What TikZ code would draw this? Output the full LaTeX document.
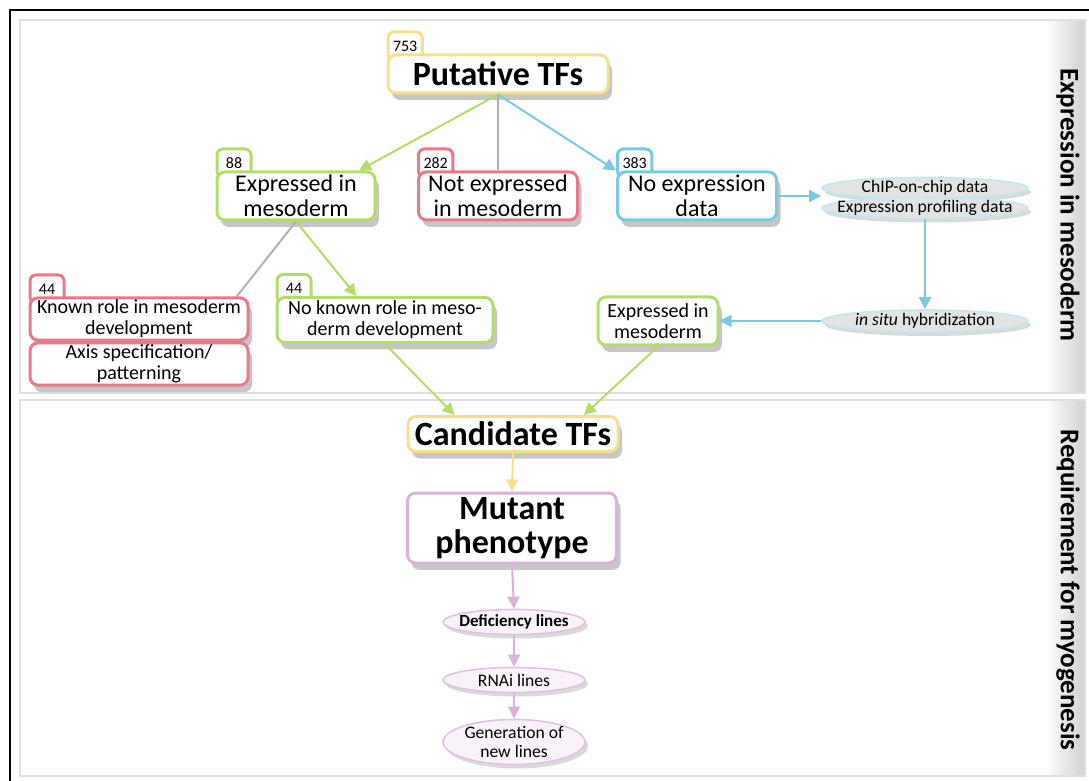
\documentclass[tikz,border=0pt]{standalone}
\usepackage{fontspec}
\setmainfont{Carlito}
\usetikzlibrary{
    arrows.meta,
    positioning,
    shapes.geometric,
    shadows,
    backgrounds,
    calc,
}
\definecolor{tfyellow}{HTML}{F4E08A}
\definecolor{tfgreen}{HTML}{B3DC6C}
\definecolor{tfred}{HTML}{E8788A}
\definecolor{tfblue}{HTML}{7AC8E2}
\definecolor{tfpurple}{HTML}{D8B2DA}
\definecolor{tfgray}{HTML}{B0B0B0}

\tikzset{
    tfbox/.style={draw, rounded corners=4pt, fill=white, line width=1.5pt,
        align=center, inner sep=1pt,
        drop shadow={opacity=0.45, shadow xshift=2pt, shadow yshift=-3.5pt}},
    numtab/.style={draw, rounded corners=3pt, fill=white, line width=1.5pt,
        anchor=south west, yshift=-4pt, minimum height=14pt, minimum width=17pt,
        inner xsep=2.5pt, font=\fontsize{8}{9}\selectfont},
    datablob/.style={ellipse, draw=tfblue!45, fill=gray!22, line width=0.8pt,
        inner sep=0pt, minimum width=103pt, minimum height=10.5pt,
        drop shadow={opacity=0.3, shadow xshift=1.5pt, shadow yshift=-2pt}},
    lineblob/.style={ellipse, draw=tfpurple!80, fill=tfpurple!15, line width=0.8pt,
        inner sep=0pt, minimum width=71pt, minimum height=12.5pt,
        drop shadow={opacity=0.3, shadow xshift=1.5pt, shadow yshift=-2pt}},
    blobtext/.style={align=center, inner sep=0pt, font=\fontsize{8.8}{9.5}\selectfont},
    link/.style={-{Triangle[length=6pt,width=6pt]}, line width=1pt},
    sidelabel/.style={rotate=-90, font=\bfseries\fontsize{13.5}{14}\selectfont},
}

\begin{document}
\begin{tikzpicture}[x=0.5pt, y=-0.5pt]
    \useasboundingbox (0,0) rectangle (1089,781);

    % Frame and panels
    \draw[line width=1pt] (10,781) -- (10,10) -- (1089,10);
    \shade[left color=white, right color=gray!35] (1045,21) rectangle (1084,392);
    \shade[left color=white, right color=gray!35] (1045,401) rectangle (1084,775);
    \draw[gray!25, line width=1pt] (20,20) rectangle (1085,393);
    \draw[gray!25, line width=1pt] (20,400) rectangle (1085,776);
    \node[sidelabel] (exprlabel) at (1068,205) {Expression in mesoderm};
    \node[sidelabel] (reqlabel) at (1068,590) {Requirement for myogenesis};

    % Expression in mesoderm
    \node[tfbox, draw=tfyellow, minimum width=110pt, minimum height=19pt,
        font=\bfseries\fontsize{17}{18}\selectfont] (putative) at (498,74) {Putative TFs};
    \node[tfbox, draw=tfgreen, minimum width=79pt, minimum height=24pt,
        font=\fontsize{12}{12.5}\selectfont] (expr) at (296,196) {Expressed in\\mesoderm};
    \node[tfbox, draw=tfred, minimum width=79.5pt, minimum height=24pt,
        font=\fontsize{12}{12.5}\selectfont] (notexpr) at (498,196) {Not expressed\\in mesoderm};
    \node[tfbox, draw=tfblue, minimum width=79.5pt, minimum height=24pt,
        font=\fontsize{12}{12.5}\selectfont] (noexpr) at (697,196) {No expression\\data};

    % Other data sources
    \node[datablob, label={[blobtext]center:ChIP-on-chip data}] (chip) at (925,188) {};
    \node[datablob, label={[blobtext]center:Expression profiling data}] (profiling) at (925,208) {};
    \node[datablob, minimum height=11pt,
        label={[blobtext]center:\textit{in situ} hybridization}] (insitu) at (925,321) {};
    \node[tfbox, draw=tfgreen, minimum width=60pt, minimum height=24pt,
        font=\fontsize{10}{10.5}\selectfont] (expr2) at (658,321) {Expressed in\\mesoderm};

    % Known role
    \node[tfbox, draw=tfred, minimum width=109pt, minimum height=21pt,
        font=\fontsize{10}{10.5}\selectfont] (known) at (139,319) {Known role in mesoderm\\development};
    \node[tfbox, draw=tfred, minimum width=109pt, minimum height=21pt,
        font=\fontsize{10}{10.5}\selectfont] (axis) at (139,364) {Axis specification/\\patterning};
    \node[tfbox, draw=tfgreen, minimum width=108pt, minimum height=22.5pt,
        font=\fontsize{10}{10.5}\selectfont] (noknown) at (385,320) {No known role in meso-\\derm development};

    % Requirement for myogenesis
    \node[tfbox, draw=tfyellow, minimum width=105pt, minimum height=17.5pt,
        font=\bfseries\fontsize{17}{18}\selectfont] (candidate) at (513,434) {Candidate TFs};
    \node[tfbox, draw=tfpurple, minimum width=104.5pt, minimum height=35pt,
        font=\bfseries\fontsize{17}{17}\selectfont] (mutant) at (512,528) {Mutant\\phenotype};
    \node[lineblob, label={[blobtext, font=\bfseries\fontsize{8.5}{9.5}\selectfont]center:Deficiency lines}] (defic) at (514,622) {};
    \node[lineblob, label={[blobtext]center:RNAi lines}] (rnai) at (514,680) {};
    \node[lineblob, minimum height=22.5pt,
        label={[blobtext]center:Generation of\\new lines}] (newlines) at (514,742) {};

    % Count tabs
    \begin{scope}[on background layer]
        \node[numtab, draw=tfyellow] (n753) at (putative.north west) {753};
        \node[numtab, draw=tfgreen] (n88) at (expr.north west) {88};
        \node[numtab, draw=tfred] (n282) at (notexpr.north west) {282};
        \node[numtab, draw=tfblue] (n383) at (noexpr.north west) {383};
        \node[numtab, draw=tfred] (n44a) at (known.north west) {44};
        \node[numtab, draw=tfgreen] (n44b) at (noknown.north west) {44};
    \end{scope}

    % Connectors
    \draw[link, tfgreen] (putative.south) -- (expr.22);
    \draw[tfgray, line width=1pt] (putative.south) -- (notexpr.north);
    \draw[link, tfblue] (putative.south) -- (noexpr.north west);
    \draw[link, tfblue] (noexpr.east) -- (noexpr.east -| profiling.west);
    \draw[link, tfblue] (profiling.south) -- (insitu.north);
    \draw[link, tfblue] (insitu.west) -- (expr2.east);
    \draw[tfgray, line width=1pt] (expr.south) -- (known.13);
    \draw[link, tfgreen] (expr.south) -- (noknown.140);
    \draw[link, tfgreen] (noknown.south) -- (candidate.162);
    \draw[link, tfgreen] (expr2.south) -- (candidate.15);
    \draw[link, tfyellow] (candidate.south) -- (mutant.north);
    \draw[link, tfpurple] (mutant.south) -- (defic.north);
    \draw[link, tfpurple] (defic.south) -- (rnai.north);
    \draw[link, tfpurple] (rnai.south) -- (newlines.north);
\end{tikzpicture}
\end{document}
